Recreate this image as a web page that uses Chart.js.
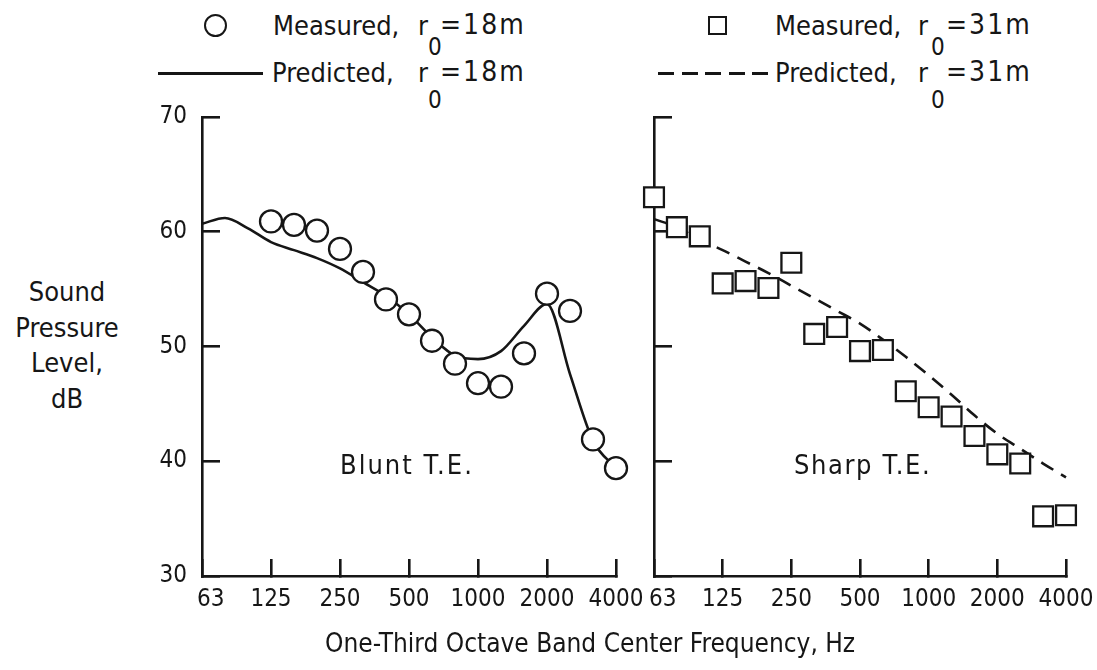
<!DOCTYPE html>
<html>
<head>
<meta charset="utf-8">
<script src="https://cdn.jsdelivr.net/npm/chart.js@4.4.1/dist/chart.umd.min.js"></script>
<style>
  body { margin: 0; background: #fff; }
  #page { position: relative; width: 1097px; height: 670px; overflow: hidden;
          font-family: "DejaVu Sans Condensed", "DejaVu Sans", sans-serif; color: #161616; }
  .t { position: absolute; font-size: 27px; line-height: 1; white-space: nowrap; }
  .eq { letter-spacing: 2px; font-size: 28px; }
  .sub { position: absolute; font-size: 24px; line-height: 1; }
  canvas { position: absolute; }
  #ytitle { position: absolute; left: 0; width: 134px; top: 274px; text-align: center;
            font-size: 27px; line-height: 35.5px; }
  .mk { position: absolute; box-sizing: border-box; border: 2.4px solid #161616; }
</style>
</head>
<body>
<div id="page">
  <!-- legenda -->
  <div class="mk" style="left:204px;top:14px;width:23px;height:23px;border-radius:50%"></div>
  <div class="t" style="left:273px;top:12px">Measured,</div>
  <div class="t" style="left:418px;top:12px">r</div>
  <div class="sub" style="left:428px;top:35px">0</div>
  <div class="t eq" style="left:440px;top:11px">=18m</div>

  <div style="position:absolute;left:158px;top:72px;width:105px;height:2.6px;background:#161616"></div>
  <div class="t" style="left:272px;top:59px">Predicted,</div>
  <div class="t" style="left:418px;top:59px">r</div>
  <div class="sub" style="left:428px;top:88px">0</div>
  <div class="t eq" style="left:440px;top:58px">=18m</div>

  <div class="mk" style="left:708px;top:16px;width:19px;height:19px"></div>
  <div class="t" style="left:775px;top:12px">Measured,</div>
  <div class="t" style="left:918px;top:12px">r</div>
  <div class="sub" style="left:931px;top:35px">0</div>
  <div class="t eq" style="left:946px;top:11px">=31m</div>

  <div style="position:absolute;left:658px;top:72px;width:114px;height:2.6px;
              background:repeating-linear-gradient(90deg,#161616 0 16px,transparent 16px 23.5px)"></div>
  <div class="t" style="left:775px;top:59px">Predicted,</div>
  <div class="t" style="left:918px;top:59px">r</div>
  <div class="sub" style="left:931px;top:88px">0</div>
  <div class="t eq" style="left:946px;top:58px">=31m</div>

  <div id="ytitle">Sound<br>Pressure<br>Level,<br>dB</div>

  <canvas id="blunt" width="520" height="540" style="left:130px;top:90px"></canvas>
  <canvas id="sharp" width="467" height="540" style="left:630px;top:90px"></canvas>

  <div class="t" style="left:340px;top:451px;letter-spacing:2px">Blunt T.E.</div>
  <div class="t" style="left:794px;top:451px;letter-spacing:1.6px">Sharp T.E.</div>

  <div class="t" style="left:325px;top:630px;font-size:26px">One-Third Octave Band Center Frequency, Hz</div>
</div>

<script>
// one-third octave band centres, Hz
const bands = ["63", "80", "100", "125", "160", "200", "250", "315", "400", "500",
               "630", "800", "1000", "1250", "1600", "2000", "2500", "3150", "4000"];
const yMin = 30;
const yMax = 70;

// sound pressure level, dB
const bluntMeasured = [null, null, null, 60.9, 60.6, 60.1, 58.5, 56.5, 54.1, 52.8,
                       50.5, 48.5, 46.8, 46.5, 49.4, 54.6, 53.1, 41.9, 39.4];
const bluntPredicted = [60.7, 61.2, 60.3, 59.1, 58.4, 57.7, 56.8, 55.6, 54.4, 52.8,
                        50.8, 49.2, 48.9, 49.6, 51.8, 53.7, 47.6, 41.8, 39.4];
const sharpMeasured = [63.0, 60.4, 59.6, 55.5, 55.7, 55.1, 57.3, 51.1, 51.7, 49.6,
                       49.7, 46.1, 44.7, 43.9, 42.2, 40.6, 39.8, 35.2, 35.3];
const sharpPredicted = [61.1, 60.4, 59.3, 58.4, 57.4, 56.4, 55.3, 54.2, 53.1, 52.0,
                        50.6, 49.1, 47.5, 45.8, 44.0, 42.4, 41.1, 39.8, 38.6];

const INK = "#161616";
const tickFont = { family: "'DejaVu Sans Condensed', sans-serif", size: 24 };

// o padding dos rótulos não deve empurrar a área do gráfico
function semPadding(s) {
  s.paddingTop = 0;
  s.paddingBottom = 0;
  s.paddingLeft = 0;
  s.paddingRight = 0;
}

// só uma banda por oitava leva rótulo; o 63 fica um pouco para dentro do eixo
function rotuloBanda(v, i) {
  if (i % 3 !== 0) return null;
  return i === 0 ? "\u2002 " + bands[i] : bands[i];
}

function escalas(comRotulosY, larguraY) {
  return {
    x: {
      type: "category",
      offset: false,
      border: { display: true, color: INK, width: 2.6 },
      grid: { drawOnChartArea: false, drawTicks: true, tickLength: -17, color: INK, lineWidth: 2.6 },
      ticks: {
        autoSkip: false, maxRotation: 0, color: INK, font: tickFont, padding: 26,
        callback: rotuloBanda
      },
      afterFit: s => { s.height = 54; semPadding(s); }
    },
    y: {
      min: yMin, max: yMax,
      border: { display: true, color: INK, width: 2.6 },
      grid: { drawOnChartArea: false, drawTicks: true, tickLength: -18, color: INK, lineWidth: 2.6 },
      ticks: { stepSize: 10, display: comRotulosY, color: INK, font: tickFont, padding: 33 },
      afterFit: s => { s.width = larguraY; semPadding(s); }
    }
  };
}

function criarPainel(id, medidos, previstos, estiloPonto, raio, tracejado, padRight, larguraY) {
  return new Chart(document.getElementById(id), {
    type: "line",
    data: {
      labels: bands,
      datasets: [
        {
          data: medidos,
          showLine: false,
          pointStyle: estiloPonto,
          pointRadius: raio,
          pointBorderWidth: 2.3,
          pointBorderColor: INK,
          pointBackgroundColor: "#fff",
          clip: false
        },
        {
          data: previstos,
          borderColor: INK,
          borderWidth: 2.6,
          borderDash: tracejado,
          pointRadius: 0,
          cubicInterpolationMode: "monotone",
          fill: false,
          clip: false
        }
      ]
    },
    options: {
      responsive: false,
      animation: false,
      layout: { padding: { left: 0, top: 27, right: padRight, bottom: 0 } },
      plugins: { legend: { display: false }, tooltip: { enabled: false } },
      scales: escalas(larguraY > 30, larguraY)
    }
  });
}

criarPainel("blunt", bluntMeasured, bluntPredicted, "circle", 11, [], 34, 72);
criarPainel("sharp", sharpMeasured, sharpPredicted, "rect", 14, [14, 9], 31, 24);
</script>
</body>
</html>
